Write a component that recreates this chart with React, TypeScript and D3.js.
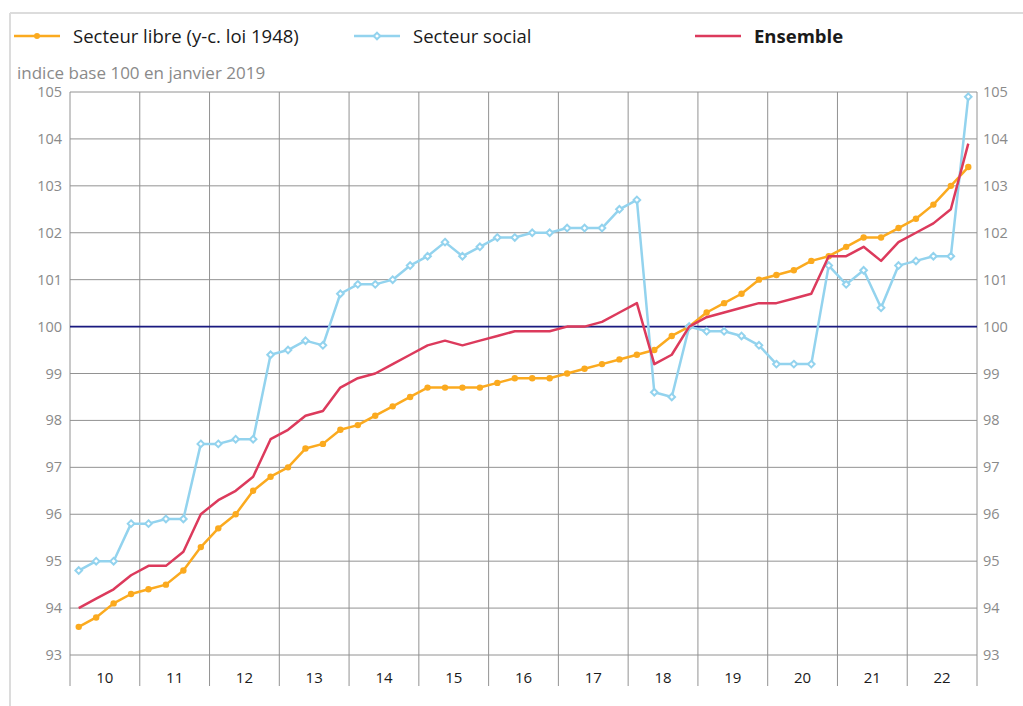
import React from "react";
import * as d3 from "d3";

const years = ["10", "11", "12", "13", "14", "15", "16", "17", "18", "19", "20", "21", "22"];
const yTicks = [93, 94, 95, 96, 97, 98, 99, 100, 101, 102, 103, 104, 105];

const libre = [
  93.6, 93.8, 94.1, 94.3,
  94.4, 94.5, 94.8, 95.3,
  95.7, 96.0, 96.5, 96.8,
  97.0, 97.4, 97.5, 97.8,
  97.9, 98.1, 98.3, 98.5,
  98.7, 98.7, 98.7, 98.7,
  98.8, 98.9, 98.9, 98.9,
  99.0, 99.1, 99.2, 99.3,
  99.4, 99.5, 99.8, 100.0,
  100.3, 100.5, 100.7, 101.0,
  101.1, 101.2, 101.4, 101.5,
  101.7, 101.9, 101.9, 102.1,
  102.3, 102.6, 103.0, 103.4,
];

const social = [
  94.8, 95.0, 95.0, 95.8,
  95.8, 95.9, 95.9, 97.5,
  97.5, 97.6, 97.6, 99.4,
  99.5, 99.7, 99.6, 100.7,
  100.9, 100.9, 101.0, 101.3,
  101.5, 101.8, 101.5, 101.7,
  101.9, 101.9, 102.0, 102.0,
  102.1, 102.1, 102.1, 102.5,
  102.7, 98.6, 98.5, 100.0,
  99.9, 99.9, 99.8, 99.6,
  99.2, 99.2, 99.2, 101.3,
  100.9, 101.2, 100.4, 101.3,
  101.4, 101.5, 101.5, 104.9,
];

const ensemble = [
  94.0, 94.2, 94.4, 94.7,
  94.9, 94.9, 95.2, 96.0,
  96.3, 96.5, 96.8, 97.6,
  97.8, 98.1, 98.2, 98.7,
  98.9, 99.0, 99.2, 99.4,
  99.6, 99.7, 99.6, 99.7,
  99.8, 99.9, 99.9, 99.9,
  100.0, 100.0, 100.1, 100.3,
  100.5, 99.2, 99.4, 100.0,
  100.2, 100.3, 100.4, 100.5,
  100.5, 100.6, 100.7, 101.5,
  101.5, 101.7, 101.4, 101.8,
  102.0, 102.2, 102.5, 103.9,
];

const legendLabels = ["Secteur libre (y-c. loi 1948)", "Secteur social", "Ensemble"];

const W = 1023;
const H = 706;
const L = 70;
const R = 977;
const T = 92;
const B = 655;
const FONT = "'Open Sans', 'Noto Sans', sans-serif";

const C_LIBRE = "#fbaa1f";
const C_SOCIAL = "#93d3ee";
const C_ENS = "#dc3a5c";
const GRID = "#929292";

export default function App() {
  const nQ = years.length * 4;
  const x = d3.scaleLinear().domain([0, nQ]).range([L, R]);
  const y = d3.scaleLinear().domain([93, 105]).range([B, T]);
  const px = (i: number) => x(i + 0.5);
  const line = d3
    .line<number>()
    .x((_, i) => px(i))
    .y((d) => y(d));
  const diamond = d3.symbol().type(d3.symbolDiamond2).size(28)();

  return (
    <div style={{ position: "absolute", left: 0, top: 0 }}>
      <svg width={W} height={H} style={{ display: "block", fontFamily: FONT }}>
        <rect x={0} y={0} width={W} height={H} fill="#fff" />
        {/* frame */}
        <line x1={10} x2={W} y1={13} y2={13} stroke="#dcdcdc" strokeWidth={2} />
        <line x1={10} x2={10} y1={13} y2={H} stroke="#dcdcdc" strokeWidth={2} />

        {/* legend */}
        <g>
          <line x1={14} x2={60} y1={36} y2={36} stroke={C_LIBRE} strokeWidth={2.5} />
          <circle cx={37} cy={36} r={3} fill={C_LIBRE} />
          <text x={73} y={42.5} fontSize={18.5} fill="#1a1a1a">{legendLabels[0]}</text>
          <line x1={354} x2={400} y1={36} y2={36} stroke={C_SOCIAL} strokeWidth={2.5} />
          <path d={diamond} transform="translate(377,36)" fill="#fff" stroke={C_SOCIAL} strokeWidth={2} />
          <text x={413} y={42.5} fontSize={18.5} fill="#1a1a1a">{legendLabels[1]}</text>
          <line x1={695} x2={741} y1={36} y2={36} stroke={C_ENS} strokeWidth={2.5} />
          <text x={754} y={42.5} fontSize={18.5} fontWeight="bold" fill="#1a1a1a">{legendLabels[2]}</text>
        </g>

        <text x={17} y={79} fontSize={17} fill="#8a8a8a">indice base 100 en janvier 2019</text>

        {/* horizontal grid */}
        {yTicks.map((t) => (
          <g key={t}>
            <line x1={L} x2={R} y1={y(t)} y2={y(t)} stroke={GRID} strokeWidth={1} />
            <text x={62} y={y(t) + 5} fontSize={14.5} fill="#8a8a8a" textAnchor="end">{t}</text>
            <text x={983} y={y(t) + 5} fontSize={14.5} fill="#8a8a8a">{t}</text>
          </g>
        ))}
        {/* vertical grid */}
        {d3.range(years.length + 1).map((k) => (
          <line key={k} x1={x(k * 4)} x2={x(k * 4)} y1={T} y2={686} stroke={GRID} strokeWidth={1} />
        ))}
        {years.map((yr, k) => (
          <text key={yr} x={x(k * 4 + 2)} y={683} fontSize={15} fill="#1a1a1a" textAnchor="middle">{yr}</text>
        ))}

        {/* base 100 */}
        <line x1={L} x2={R} y1={y(100)} y2={y(100)} stroke="#1a1a80" strokeWidth={1.6} />

        {/* series */}
        <path d={line(libre) || ""} fill="none" stroke={C_LIBRE} strokeWidth={2.5} strokeLinejoin="round" />
        {libre.map((v, i) => (
          <circle key={"l" + i} cx={px(i)} cy={y(v)} r={3.2} fill={C_LIBRE} />
        ))}
        <path d={line(social) || ""} fill="none" stroke={C_SOCIAL} strokeWidth={2.5} strokeLinejoin="round" />
        {social.map((v, i) => (
          <path key={"s" + i} d={diamond} transform={`translate(${px(i)},${y(v)})`} fill="#fff" stroke={C_SOCIAL} strokeWidth={2} />
        ))}
        <path d={line(ensemble) || ""} fill="none" stroke={C_ENS} strokeWidth={2.5} strokeLinejoin="round" />
      </svg>
    </div>
  );
}
